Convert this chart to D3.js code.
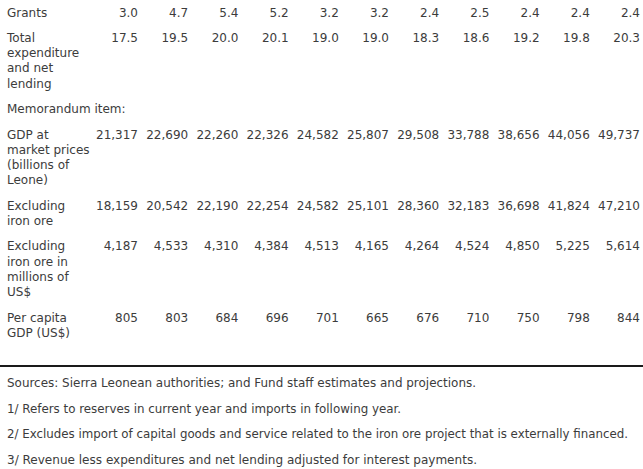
<!DOCTYPE html>
<html>
<head>
<meta charset="utf-8">
<script src="https://cdn.jsdelivr.net/npm/d3@7"></script>
<style>
  html, body { margin: 0; padding: 0; background: #ffffff; }
  svg { display: block; }
</style>
</head>
<body>
<svg id="chart" width="643" height="469"></svg>
<script>
// ---- data ----
const columns = ["c1", "c2", "c3", "c4", "c5", "c6", "c7", "c8", "c9", "c10", "c11"];

const grants = [3.0, 4.7, 5.4, 5.2, 3.2, 3.2, 2.4, 2.5, 2.4, 2.4, 2.4];
const totalExpenditure = [17.5, 19.5, 20.0, 20.1, 19.0, 19.0, 18.3, 18.6, 19.2, 19.8, 20.3];
const gdpMarketPrices = [21317, 22690, 22260, 22326, 24582, 25807, 29508, 33788, 38656, 44056, 49737];
const gdpExclIronOre = [18159, 20542, 22190, 22254, 24582, 25101, 28360, 32183, 36698, 41824, 47210];
const gdpExclIronOreUSD = [4187, 4533, 4310, 4384, 4513, 4165, 4264, 4524, 4850, 5225, 5614];
const perCapitaGDP = [805, 803, 684, 696, 701, 665, 676, 710, 750, 798, 844];

const rowLabels = [
  ["Grants"],
  ["Total", "expenditure", "and net", "lending"],
  ["Memorandum item:"],
  ["GDP at", "market prices", "(billions of", "Leone)"],
  ["Excluding", "iron ore"],
  ["Excluding", "iron ore in", "millions of", "US$"],
  ["Per capita", "GDP (US$)"]
];
const rowValues = [grants, totalExpenditure, null, gdpMarketPrices, gdpExclIronOre, gdpExclIronOreUSD, perCapitaGDP];
const rowFormats = [",.1f", ",.1f", null, ",", ",", ",", ","];

const footnotes = [
  "Sources: Sierra Leonean authorities; and Fund staff estimates and projections.",
  "1/ Refers to reserves in current year and imports in following year.",
  "2/ Excludes import of capital goods and service related to the iron ore project that is externally financed.",
  "3/ Revenue less expenditures and net lending adjusted for interest payments."
];
const footnoteWidths = [469, 394, 621, 470];

// ---- layout ----
const W = 643, H = 469;
const textColor = "#3c3c3c";
const lineH = 15.2, rowGap = 25.5, firstBaseline = 16.5;

const svg = d3.select("#chart");

const x = d3.scalePoint().domain(columns).range([138, 640]);

// compute baselines of each row
const rows = [];
let y = firstBaseline;
rowLabels.forEach((lab, i) => {
  rows.push({ label: lab, values: rowValues[i], fmt: rowFormats[i], y: y });
  y += (lab.length - 1) * lineH + rowGap;
});

const g = svg.append("g")
  .attr("font-family", "'DejaVu Sans', Verdana, sans-serif")
  .attr("font-size", 12)
  .attr("fill", textColor);

const rowG = g.selectAll("g.row").data(rows).join("g").attr("class", "row");

rowG.append("text")
  .attr("x", 7)
  .attr("y", d => d.y)
  .selectAll("tspan")
  .data(d => d.label)
  .join("tspan")
  .attr("x", 7)
  .attr("dy", (d, i) => i === 0 ? 0 : lineH)
  .text(d => d);

rowG.filter(d => d.values).each(function(d) {
  const f = d3.format(d.fmt);
  d3.select(this).selectAll("text.num")
    .data(d.values.map((v, i) => ({ v, c: columns[i] })))
    .join("text")
    .attr("class", "num")
    .attr("text-anchor", "end")
    .attr("x", e => x(e.c))
    .attr("y", d.y)
    .text(e => f(e.v));
});

// separator
svg.append("line")
  .attr("x1", 0).attr("x2", W)
  .attr("y1", 366).attr("y2", 366)
  .attr("stroke", "#1a1a1a").attr("stroke-width", 2);

// footnotes
svg.append("g")
  .attr("font-family", "'DejaVu Sans Condensed', 'DejaVu Sans', sans-serif")
  .attr("font-size", 12)
  .attr("fill", textColor)
  .selectAll("text")
  .data(footnotes)
  .join("text")
  .attr("x", 7)
  .attr("y", (d, i) => 387 + i * 25.5)
  .attr("textLength", (d, i) => footnoteWidths[i])
  .attr("lengthAdjust", "spacingAndGlyphs")
  .text(d => d);
</script>
</body>
</html>
